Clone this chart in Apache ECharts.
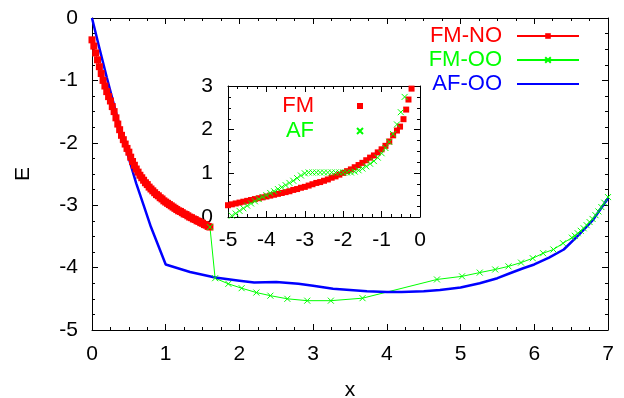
<!DOCTYPE html>
<html>
<head>
<meta charset="utf-8">
<script src="https://cdn.jsdelivr.net/npm/echarts@6/dist/echarts.min.js"></script>
<style>
  html, body { margin: 0; padding: 0; background: #fff; }
  #chart { width: 624px; height: 398px; }
</style>
</head>
<body>
<div id="chart"></div>
<script>
// ---- main panel: E vs x ----
const fmNoX = [0, 0.025, 0.05, 0.075, 0.1, 0.125, 0.15, 0.175, 0.2, 0.225, 0.25, 0.275, 0.3, 0.325, 0.35, 0.375,
  0.4, 0.425, 0.45, 0.475, 0.5, 0.525, 0.55, 0.575, 0.6, 0.625, 0.65, 0.675, 0.7, 0.725, 0.75, 0.775, 0.8, 0.825,
  0.85, 0.875, 0.9, 0.925, 0.95, 0.975, 1.0, 1.025, 1.05, 1.075, 1.1, 1.125, 1.15, 1.175, 1.2, 1.225, 1.25, 1.275,
  1.3, 1.325, 1.35, 1.375, 1.4, 1.425, 1.45, 1.475, 1.5, 1.525, 1.55, 1.575, 1.6];
const fmNoE = [-0.35, -0.45, -0.56, -0.67, -0.78, -0.89, -1.0, -1.09, -1.18, -1.26, -1.33, -1.42, -1.5, -1.6, -1.7, -1.79,
  -1.88, -1.95, -2.02, -2.09, -2.15, -2.23, -2.3, -2.36, -2.42, -2.47, -2.52, -2.56, -2.6, -2.64, -2.67, -2.71, -2.74, -2.77,
  -2.8, -2.83, -2.85, -2.88, -2.9, -2.93, -2.95, -2.97, -2.99, -3.01, -3.03, -3.05, -3.07, -3.09, -3.1, -3.12, -3.14, -3.15,
  -3.17, -3.19, -3.2, -3.22, -3.23, -3.25, -3.26, -3.28, -3.29, -3.31, -3.32, -3.34, -3.35];

const fmOoX = [1.6, 1.67, 1.85, 2.03, 2.23, 2.42, 2.65, 2.92, 3.24, 3.67, 4.68, 5.02, 5.26, 5.47, 5.65, 5.82, 5.98,
  6.12, 6.26, 6.39, 6.51, 6.55, 6.59, 6.63, 6.67, 6.71, 6.75, 6.79, 6.83, 6.87, 6.91, 6.95, 7.0];
const fmOoE = [-3.35, -4.17, -4.26, -4.33, -4.4, -4.45, -4.5, -4.53, -4.53, -4.49, -4.19, -4.14, -4.08, -4.03, -3.98, -3.92, -3.85,
  -3.77, -3.71, -3.61, -3.52, -3.49, -3.45, -3.41, -3.37, -3.32, -3.27, -3.22, -3.16, -3.1, -3.03, -2.96, -2.87];

const afOoX = [0, 0.1, 0.2, 0.3, 0.4, 0.5, 0.6, 0.7, 0.8, 0.9, 1.0, 1.33, 1.67, 2.0, 2.2, 2.5, 2.8, 3.0, 3.27, 3.5,
  3.73, 4.0, 4.2, 4.5, 4.72, 5.0, 5.26, 5.5, 5.67, 5.85, 6.0, 6.2, 6.4, 6.6, 6.8, 7.0];
const afOoE = [0, -0.48, -0.95, -1.4, -1.85, -2.25, -2.65, -3.0, -3.35, -3.65, -3.95, -4.07, -4.16, -4.21, -4.24, -4.23, -4.26, -4.29, -4.34, -4.36,
  -4.38, -4.39, -4.39, -4.38, -4.36, -4.32, -4.25, -4.17, -4.09, -4.01, -3.95, -3.84, -3.71, -3.48, -3.23, -2.89];

// ---- inset ----
const fmInX = [-5.0, -4.9, -4.8, -4.7, -4.6, -4.5, -4.4, -4.3, -4.2, -4.1, -4.0, -3.9, -3.8, -3.7, -3.6, -3.5, -3.4, -3.3,
  -3.2, -3.1, -3.0, -2.9, -2.8, -2.7, -2.6, -2.5, -2.4, -2.3, -2.2, -2.1, -2.0, -1.9, -1.8, -1.7, -1.6, -1.5, -1.4, -1.3,
  -1.2, -1.1, -1.0, -0.9, -0.8, -0.7, -0.6, -0.52, -0.43, -0.36, -0.3, -0.22];
const fmInY = [0.27, 0.29, 0.31, 0.33, 0.35, 0.37, 0.39, 0.41, 0.43, 0.45, 0.47, 0.49, 0.51, 0.53, 0.55, 0.57, 0.59, 0.62,
  0.64, 0.67, 0.69, 0.72, 0.75, 0.78, 0.8, 0.83, 0.86, 0.9, 0.93, 0.97, 1.01, 1.05, 1.09, 1.14, 1.19, 1.24, 1.3, 1.36,
  1.41, 1.48, 1.55, 1.63, 1.73, 1.87, 1.98, 2.07, 2.24, 2.46, 2.69, 2.94];

const afInX = [-5.0, -4.9, -4.8, -4.7, -4.6, -4.5, -4.4, -4.3, -4.2, -4.1, -4.0, -3.9, -3.8, -3.7, -3.6, -3.5, -3.4, -3.3,
  -3.2, -3.1, -3.0, -2.9, -2.8, -2.7, -2.6, -2.5, -2.4, -2.3, -2.2, -2.1, -2.0, -1.9, -1.8, -1.7, -1.6, -1.5, -1.4, -1.3,
  -1.2, -1.1, -1.0, -0.9, -0.8, -0.7, -0.6, -0.5, -0.4];
const afInY = [-0.02, 0.03, 0.08, 0.14, 0.2, 0.26, 0.31, 0.36, 0.41, 0.46, 0.5, 0.55, 0.59, 0.64, 0.68, 0.73, 0.78, 0.83,
  0.89, 0.95, 1.0, 1.02, 1.02, 1.02, 1.02, 1.02, 1.02, 1.02, 1.02, 1.02, 1.02, 1.02, 1.02, 1.04, 1.07, 1.11, 1.16, 1.22,
  1.28, 1.36, 1.46, 1.58, 1.72, 1.9, 2.12, 2.4, 2.75];

const RED = "#ff0000", GREEN = "#00ff00", BLUE = "#0000ff";
const CROSS = "path://M0,0L10,10M10,0L0,10";
const FONT = "Liberation Sans";

const zip = (xs, ys) => xs.map((x, i) => [x, ys[i]]);

// gnuplot-style box axes: ticks inward, mirrored, minor ticks
function boxAxis(gridIndex, position, min, max, labelMargin, extra) {
  return Object.assign({
    type: "value",
    gridIndex, position, min, max, interval: 1,
    axisLine: { show: true, onZero: false, lineStyle: { color: "#000", width: 1 } },
    axisTick: { show: true, inside: true, length: 6, lineStyle: { color: "#000" } },
    minorTick: { show: true, splitNumber: 4, length: 3, lineStyle: { color: "#000" } },
    axisLabel: {
      show: labelMargin != null, color: "#000", fontFamily: FONT, fontSize: 21,
      margin: labelMargin || 0,
    },
    splitLine: { show: false },
  }, extra || {});
}

const nameStyle = { color: "#000", fontFamily: FONT, fontSize: 21 };

const chart = echarts.init(document.getElementById("chart"), null, { renderer: "canvas" });

const option = {
  animation: false,
  backgroundColor: "#fff",
  grid: [
    { left: 92, top: 18, width: 516, height: 312, outerBoundsMode: "none", containLabel: false },
    { left: 228, top: 86, width: 192, height: 131, outerBoundsMode: "none", containLabel: false },
  ],
  xAxis: [
    boxAxis(0, "bottom", 0, 7, 14, { name: "x", nameLocation: "middle", nameGap: 50, nameTextStyle: nameStyle }),
    boxAxis(0, "top", 0, 7, null),
    boxAxis(1, "bottom", -5, 0, 13),
    boxAxis(1, "top", -5, 0, null),
  ],
  yAxis: [
    boxAxis(0, "left", -5, 0, 14, { name: "E", nameLocation: "middle", nameGap: 58, nameRotate: 90, nameTextStyle: nameStyle }),
    boxAxis(0, "right", -5, 0, null),
    boxAxis(1, "left", 0, 3, 15),
    boxAxis(1, "right", 0, 3, null),
  ],
  legend: [
    {
      orient: "vertical", align: "right", right: 44, top: 25, padding: 0,
      itemWidth: 62, itemHeight: 7, itemGap: 2,
      textStyle: { fontFamily: FONT, fontSize: 22, padding: [0, 10, 0, 0] },
      data: [
        { name: "FM-NO", textStyle: { color: RED } },
        { name: "FM-OO", textStyle: { color: GREEN } },
        { name: "AF-OO", textStyle: { color: BLUE }, itemStyle: { color: "rgba(0,0,0,0)", borderWidth: 0, opacity: 0 } },
      ],
    },
    {
      orient: "vertical", align: "right", right: 260, top: 95, padding: 0,
      itemWidth: 6, itemHeight: 6, itemGap: 3,
      textStyle: { fontFamily: FONT, fontSize: 22, padding: [0, 38, 0, 0] },
      data: [
        { name: "FM", textStyle: { color: RED } },
        { name: "AF", textStyle: { color: GREEN } },
      ],
    },
  ],
  series: [
    {
      name: "FM-NO", type: "line", xAxisIndex: 0, yAxisIndex: 0,
      data: zip(fmNoX, fmNoE),
      symbol: "rect", symbolSize: 7,
      itemStyle: { color: RED },
      lineStyle: { color: RED, width: 1 },
    },
    {
      name: "FM-OO", type: "line", xAxisIndex: 0, yAxisIndex: 0,
      data: zip(fmOoX, fmOoE),
      symbol: CROSS, symbolSize: 6,
      itemStyle: { color: GREEN, borderColor: GREEN, borderWidth: 1 },
      lineStyle: { color: GREEN, width: 1 },
    },
    {
      name: "AF-OO", type: "line", xAxisIndex: 0, yAxisIndex: 0,
      data: zip(afOoX, afOoE),
      symbol: "none",
      itemStyle: { color: BLUE },
      lineStyle: { color: BLUE, width: 2.5 },
    },
    {
      name: "FM", type: "scatter", xAxisIndex: 2, yAxisIndex: 2,
      data: zip(fmInX, fmInY),
      symbol: "rect", symbolSize: 6,
      itemStyle: { color: RED, opacity: 1 },
    },
    {
      name: "AF", type: "scatter", xAxisIndex: 2, yAxisIndex: 2,
      data: zip(afInX, afInY),
      symbol: CROSS, symbolSize: 6,
      itemStyle: { color: GREEN, borderColor: GREEN, borderWidth: 1, opacity: 1 },
    },
  ],
};

chart.setOption(option);
</script>
</body>
</html>
